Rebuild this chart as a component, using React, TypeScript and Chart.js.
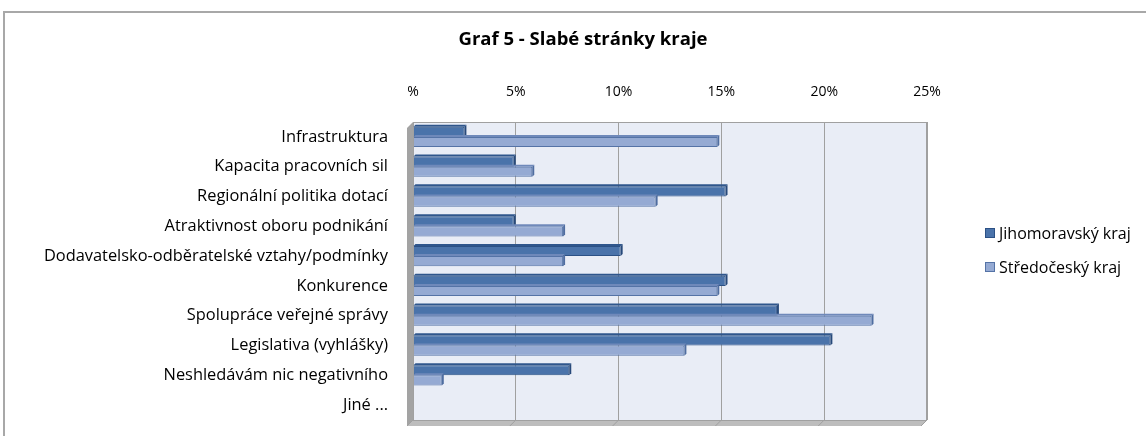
import { useEffect, useRef } from 'react';
import { Chart, registerables } from 'chart.js';

Chart.register(...registerables);

const chartTitle = 'Graf 5 - Slabé stránky kraje';
const categories = [
  'Infrastruktura',
  'Kapacita pracovních sil',
  'Regionální politika dotací',
  'Atraktivnost oboru podnikání',
  'Dodavatelsko-odběratelské vztahy/podmínky',
  'Konkurence',
  'Spolupráce veřejné správy',
  'Legislativa (vyhlášky)',
  'Neshledávám nic negativního',
  'Jiné ...',
];
const seriesNames = ['Jihomoravský kraj', 'Středočeský kraj'];
const jihomoravsky = [2.5, 4.9, 15.2, 4.9, 10.1, 15.2, 17.7, 20.3, 7.6, 0];
const stredocesky = [14.8, 5.8, 11.8, 7.3, 7.3, 14.8, 22.3, 13.2, 1.4, 0];
const tickLabels = ['%', '5%', '10%', '15%', '20%', '25%'];

const FONT = '"Open Sans", "Noto Sans", sans-serif';
const W = 1146;
const H = 436;

const darkFill = '#4A73AA';
const darkEdge = '#2C5185';
const lightFill = '#95AAD3';
const lightEdge = '#5573A6';

const framePlugin = {
  id: 'frame',
  beforeDraw(chart: any) {
    const ctx = chart.ctx;
    const a = chart.chartArea;
    ctx.save();
    ctx.fillStyle = '#ffffff';
    ctx.fillRect(0, 0, W, H);
    ctx.strokeStyle = '#A8A8A8';
    ctx.lineWidth = 2;
    ctx.beginPath();
    ctx.moveTo(4, H);
    ctx.lineTo(4, 12);
    ctx.lineTo(W, 12);
    ctx.stroke();
    ctx.fillStyle = '#E9EDF6';
    ctx.fillRect(a.left, a.top, a.right - a.left, a.bottom - a.top);
    const d = 6;
    ctx.fillStyle = '#A3A3A3';
    ctx.beginPath();
    ctx.moveTo(a.left - d, a.top + d);
    ctx.lineTo(a.left, a.top);
    ctx.lineTo(a.left, a.bottom);
    ctx.lineTo(a.left - d, a.bottom + d);
    ctx.closePath();
    ctx.fill();
    ctx.fillStyle = '#BDBDBD';
    ctx.beginPath();
    ctx.moveTo(a.left - d, a.bottom + d);
    ctx.lineTo(a.left, a.bottom);
    ctx.lineTo(a.right, a.bottom);
    ctx.lineTo(a.right - d, a.bottom + d);
    ctx.closePath();
    ctx.fill();
    ctx.restore();
  },
  afterDatasetsDraw(chart: any) {
    const ctx = chart.ctx;
    const a = chart.chartArea;
    ctx.save();
    ctx.strokeStyle = '#A0A0A0';
    ctx.lineWidth = 1;
    ctx.strokeRect(a.left + 0.5, a.top + 0.5, a.right - a.left - 1, a.bottom - a.top);
    const xs = chart.scales.x;
    for (let v = 0; v <= 25; v += 5) {
      const px = xs.getPixelForValue(v);
      ctx.beginPath();
      ctx.moveTo(px, a.bottom);
      ctx.lineTo(px - 6, a.bottom + 6);
      ctx.stroke();
    }
    const dd = 2;
    chart.data.datasets.forEach((ds: any, di: number) => {
      const meta = chart.getDatasetMeta(di);
      meta.data.forEach((bar: any) => {
        const p = bar.getProps(['x', 'y', 'base', 'height'], true);
        if (Math.abs(p.x - p.base) < 0.5) return;
        const top = p.y - p.height / 2;
        const bottom = p.y + p.height / 2;
        ctx.fillStyle = di === 0 ? '#2F568C' : '#6F89BA';
        ctx.beginPath();
        ctx.moveTo(p.base, top);
        ctx.lineTo(p.base + dd, top - dd);
        ctx.lineTo(p.x + dd, top - dd);
        ctx.lineTo(p.x, top);
        ctx.closePath();
        ctx.fill();
        ctx.fillStyle = di === 0 ? '#27497A' : '#4F6DA0';
        ctx.beginPath();
        ctx.moveTo(p.x, top);
        ctx.lineTo(p.x + dd, top - dd);
        ctx.lineTo(p.x + dd, bottom - dd);
        ctx.lineTo(p.x, bottom);
        ctx.closePath();
        ctx.fill();
      });
    });
    ctx.restore();
  },
  afterDraw(chart: any) {
    const ctx = chart.ctx;
    ctx.save();
    ctx.fillStyle = '#000000';
    ctx.font = `bold 18.5px ${FONT}`;
    ctx.textAlign = 'center';
    ctx.textBaseline = 'middle';
    ctx.fillText(chartTitle, 583, 40);
    const ys = [233, 267];
    ctx.font = `16px ${FONT}`;
    ctx.textAlign = 'left';
    chart.data.datasets.forEach((ds: any, i: number) => {
      const y = ys[i];
      ctx.fillStyle = ds.backgroundColor;
      ctx.fillRect(985, y - 5, 10, 10);
      ctx.strokeStyle = ds.borderColor;
      ctx.lineWidth = 1;
      ctx.strokeRect(985.5, y - 4.5, 9, 9);
      ctx.fillStyle = '#000000';
      ctx.fillText(ds.label, 999, y + 1);
    });
    ctx.restore();
  },
};

export default function App() {
  const ref = useRef<HTMLCanvasElement | null>(null);

  useEffect(() => {
    if (!ref.current) return;
    const chart = new Chart(ref.current, {
      type: 'bar',
      data: {
        labels: categories,
        datasets: [
          {
            label: seriesNames[0],
            data: jihomoravsky,
            backgroundColor: darkFill,
            borderColor: darkEdge,
            borderWidth: 1,
            categoryPercentage: 0.68,
            barPercentage: 1.0,
          },
          {
            label: seriesNames[1],
            data: stredocesky,
            backgroundColor: lightFill,
            borderColor: lightEdge,
            borderWidth: 1,
            categoryPercentage: 0.68,
            barPercentage: 1.0,
          },
        ],
      },
      options: {
        indexAxis: 'y',
        responsive: false,
        animation: false,
        maintainAspectRatio: false,
        layout: { padding: { left: 0, top: 0, right: W - 927, bottom: 16 } },
        plugins: {
          legend: { display: false },
          title: { display: false },
          tooltip: { enabled: false },
        },
        scales: {
          x: {
            position: 'top',
            min: 0,
            max: 25,
            ticks: {
              stepSize: 5,
              padding: 22,
              color: '#000000',
              font: { family: FONT, size: 14 },
              callback: (_v: any, i: number) => tickLabels[i],
            },
            grid: { color: '#A0A0A0', drawTicks: false },
            border: { display: false },
            afterFit: (s: any) => {
              s.height = 122;
            },
          },
          y: {
            ticks: {
              padding: 0,
              color: '#000000',
              font: { family: FONT, size: 16.4 },
            },
            grid: {
              display: true,
              drawOnChartArea: false,
              drawTicks: true,
              tickLength: 25,
              tickColor: 'rgba(0,0,0,0)',
            },
            border: { display: false },
            afterFit: (s: any) => {
              s.width = 413;
            },
          },
        },
      },
      plugins: [framePlugin],
    } as any);
    return () => chart.destroy();
  }, []);

  return (
    <div style={{ position: 'fixed', left: 0, top: 0, width: W, height: H, background: '#fff' }}>
      <canvas ref={ref} width={W} height={H} style={{ display: 'block', width: W, height: H }} />
    </div>
  );
}
